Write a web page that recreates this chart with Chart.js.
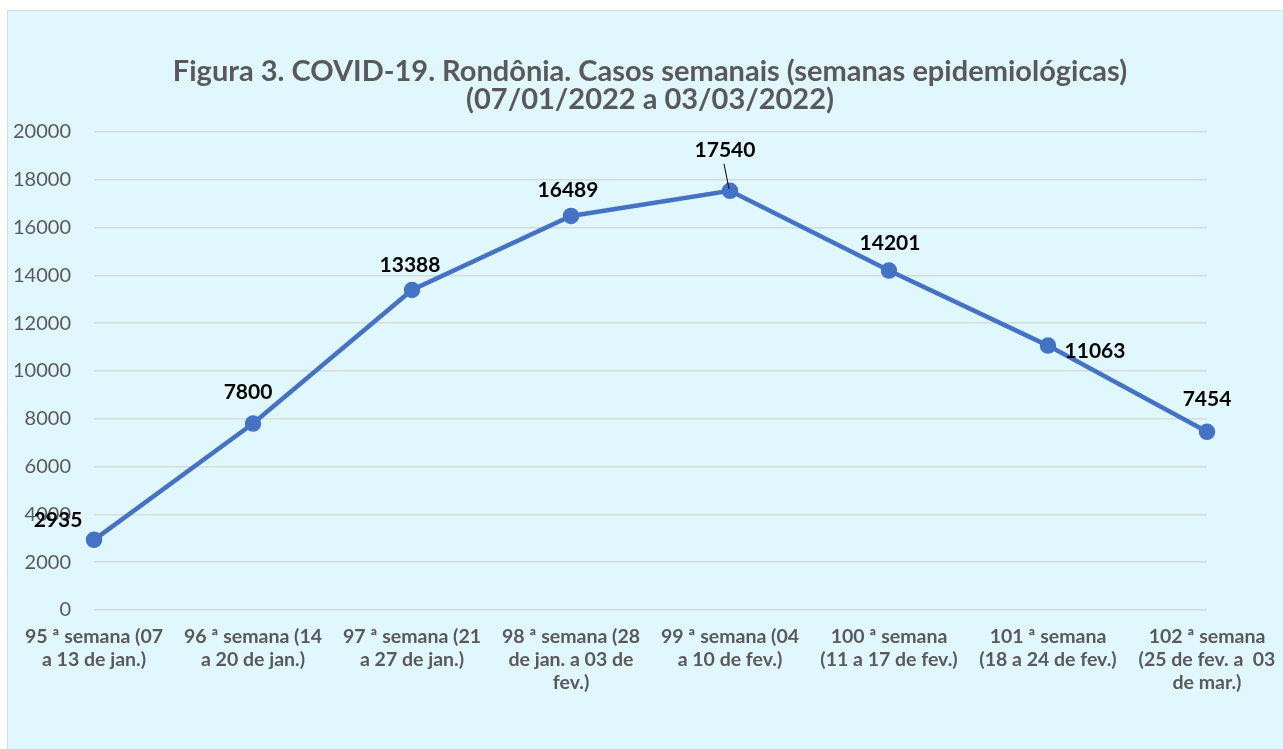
<!DOCTYPE html>
<html>
<head>
<meta charset="utf-8">
<script src="https://cdn.jsdelivr.net/npm/chart.js"></script>
<style>
  html, body { margin: 0; padding: 0; background: #ffffff; overflow: hidden; }
  #box {
    position: absolute; left: 7px; top: 10px; width: 1284px; height: 745px;
    background: #e1f7fe; border-left: 1px solid #d9d9d9; border-top: 1px solid #d9d9d9;
    overflow: hidden;
  }
  canvas { display: block; }
</style>
</head>
<body>
<div id="box"><canvas id="chart" width="1284" height="738"></canvas></div>
<script>
const weeks = [
  ["95 ª semana (07", "a 13 de jan.)"],
  ["96 ª semana (14", "a 20 de jan.)"],
  ["97 ª semana (21", "a 27 de jan.)"],
  ["98 ª semana (28", "de jan. a 03 de", "fev.)"],
  ["99 ª semana (04", "a 10 de fev.)"],
  ["100 ª semana", "(11 a 17 de fev.)"],
  ["101 ª semana", "(18 a 24 de fev.)"],
  ["102 ª semana", "(25 de fev. a  03", "de mar.)"]
];
const cases = [2935, 7800, 13388, 16489, 17540, 14201, 11063, 7454];
const titleLines = [
  "Figura 3. COVID-19. Rondônia. Casos semanais (semanas epidemiológicas)",
  "(07/01/2022 a 03/03/2022)"
];

// where each value label sits relative to its point (dx, dy)
const labelOffsets = [[-36, -20], [-5, -31], [-2, -25], [-3, -26], [-5, -41], [1, -27], [47, 6], [0, -33]];

const FONT = "Lato, 'Open Sans', sans-serif";

const valueLabels = {
  id: "valueLabels",
  afterDatasetsDraw(chart) {
    const ctx = chart.ctx;
    const meta = chart.getDatasetMeta(0);
    ctx.save();
    ctx.font = "bold 21px " + FONT;
    ctx.fillStyle = "#000000";
    ctx.textAlign = "center";
    ctx.textBaseline = "middle";
    meta.data.forEach((pt, i) => {
      const [dx, dy] = labelOffsets[i];
      const lx = pt.x + dx, ly = pt.y + dy;
      ctx.fillText(String(cases[i]), lx, ly);
      if (i === 4) {
        // leader line from label to point
        ctx.strokeStyle = "#000000";
        ctx.lineWidth = 1;
        ctx.beginPath();
        ctx.moveTo(lx - 1, ly + 14);
        ctx.lineTo(pt.x - 1, pt.y - 2);
        ctx.stroke();
      }
    });
    ctx.restore();
  }
};

new Chart(document.getElementById("chart"), {
  type: "line",
  data: {
    labels: weeks,
    datasets: [{
      data: cases,
      borderColor: "#4472c4",
      backgroundColor: "#4472c4",
      borderWidth: 4.5,
      pointRadius: 6,
      pointBackgroundColor: "#4472c4",
      pointBorderColor: "#4472c4",
      tension: 0
    }]
  },
  options: {
    responsive: false,
    animation: false,
    layout: { padding: { left: 0, right: 0, top: 0, bottom: 0 } },
    plugins: {
      legend: { display: false },
      tooltip: { enabled: false },
      title: {
        display: true,
        text: titleLines,
        color: "#595959",
        font: { family: FONT, size: 29, weight: "bold", lineHeight: "28px" },
        padding: { top: 47, bottom: 18 }
      }
    },
    scales: {
      x: {
        offset: false,
        grid: { display: false, drawTicks: false },
        border: { display: false },
        ticks: {
          color: "#595959",
          font: { family: FONT, size: 19.5, weight: "bold", lineHeight: "23px" },
          padding: 15,
          maxRotation: 0,
          autoSkip: false
        },
        afterFit: s => { s.height = 139; }
      },
      y: {
        min: 0,
        max: 20000,
        grid: { color: "#d9d9d9", lineWidth: 1.5, drawTicks: false },
        border: { display: false },
        ticks: {
          stepSize: 2000,
          color: "#595959",
          font: { family: FONT, size: 20 },
          padding: 23,
          callback: v => String(v)
        },
        afterFit: s => { s.width = 86; }
      },
      yRight: {
        position: "right",
        display: true,
        grid: { display: false, drawTicks: false },
        border: { display: false },
        ticks: { display: false },
        afterFit: s => { s.width = 85; }
      }
    }
  },
  plugins: [valueLabels]
});
</script>
</body>
</html>
